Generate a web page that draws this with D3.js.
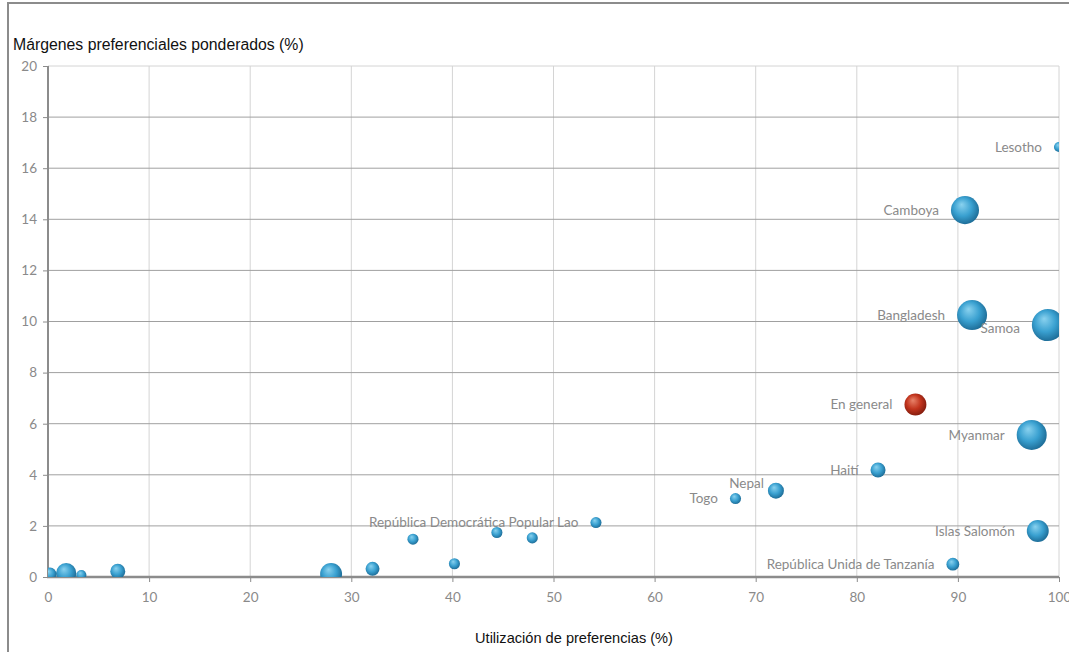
<!DOCTYPE html>
<html><head><meta charset="utf-8">
<script src="https://cdn.jsdelivr.net/npm/d3@7"></script>
<style>body{margin:0;background:#fff}svg{display:block}</style>
</head><body><svg id="c" width="1069" height="652"></svg>
<script>
const labels = ["Lesotho","Camboya","Bangladesh","Samoa","En general","Myanmar","Haití","Nepal","Togo","República Democrática Popular Lao","","","","","","","Islas Salomón","República Unida de Tanzanía","","","",""];
const utilizacion = [100, 90.7, 91.4, 98.9, 85.8, 97.3, 82.1, 72.0, 68.0, 54.2, 47.9, 44.4, 36.1, 40.2, 32.1, 28.0, 97.9, 89.5, 6.9, 0.2, 1.8, 3.3];
const margenes = [16.83, 14.36, 10.25, 9.86, 6.75, 5.56, 4.19, 3.38, 3.07, 2.13, 1.53, 1.74, 1.48, 0.52, 0.32, 0.12, 1.80, 0.50, 0.22, 0.12, 0.15, 0.08];
const tamano = [10, 77, 88, 100, 47, 88, 22, 25, 12, 12, 12, 12, 12, 12, 19, 47, 47, 16, 22, 16, 40, 10];
const general = [false,false,false,false,true,false,false,false,false,false,false,false,false,false,false,false,false,false,false,false,false,false];
const xTicks = [0,10,20,30,40,50,60,70,80,90,100];
const yTicks = [0,2,4,6,8,10,12,14,16,18,20];
const yTitle = "Márgenes preferenciales ponderados (%)";
const xTitle = "Utilización de preferencias (%)";

const svg = d3.select("#c");
const L = 48, R = 1059, T = 66, B = 577;
const x = d3.scaleLinear().domain([0,100]).range([L,R]);
const y = d3.scaleLinear().domain([0,20]).range([B,T]);
const r = d3.scaleSqrt().domain([0,100]).range([0,16]);

const defs = svg.append("defs");
function grad(id, c0, c1, c2){
  const g = defs.append("radialGradient").attr("id",id).attr("cx","45%").attr("cy","45%").attr("r","60%").attr("fx","38%").attr("fy","30%");
  g.append("stop").attr("offset","0%").attr("stop-color",c0);
  g.append("stop").attr("offset","55%").attr("stop-color",c1);
  g.append("stop").attr("offset","100%").attr("stop-color",c2);
}
grad("gb","#8ad2ef","#39a0d0","#1a6690");
grad("gr","#e8836a","#c2341d","#7c1a0c");
defs.append("clipPath").attr("id","clip").append("rect").attr("x",L).attr("y",T).attr("width",R-L).attr("height",B-T);

// outer frame
svg.append("line").attr("x1",8).attr("x2",1069).attr("y1",3).attr("y2",3).attr("stroke","#8c8c8c").attr("stroke-width",2);
svg.append("line").attr("x1",8).attr("x2",8).attr("y1",2).attr("y2",652).attr("stroke","#8c8c8c").attr("stroke-width",2);

// vertical gridlines
svg.append("g").selectAll("line").data(xTicks.filter(d=>d>0)).join("line")
  .attr("x1",d=>x(d)).attr("x2",d=>x(d)).attr("y1",T).attr("y2",B)
  .attr("stroke","#d4d4d4").attr("stroke-width",1);
// horizontal gridlines
svg.append("g").selectAll("line").data(yTicks.filter(d=>d>0 && d<20)).join("line")
  .attr("x1",L).attr("x2",R).attr("y1",d=>y(d)).attr("y2",d=>y(d))
  .attr("stroke","#a0a0a0").attr("stroke-width",1);
svg.append("line").attr("x1",L).attr("x2",R).attr("y1",T).attr("y2",T).attr("stroke","#d4d4d4");

// axes
const yAxis = svg.append("g").attr("transform",`translate(${L},0)`)
  .call(d3.axisLeft(y).tickValues(yTicks).tickSize(5).tickPadding(6).tickFormat(d3.format("d")));
const xAxis = svg.append("g").attr("transform",`translate(0,${B})`)
  .call(d3.axisBottom(x).tickValues(xTicks).tickSize(5).tickPadding(10).tickFormat(d3.format("d")));
[yAxis,xAxis].forEach(a=>{
  a.select(".domain").remove();
  a.selectAll(".tick line").attr("stroke","#8c8c8c");
  a.selectAll("text").attr("fill","#8a8a8a").style("font-family","Lato, 'Open Sans', sans-serif").style("font-size","13.5px");
});
xAxis.selectAll(".tick").filter(d=>d===0).select("line").remove();
svg.append("line").attr("x1",L).attr("x2",L).attr("y1",T).attr("y2",B+1).attr("stroke","#8c8c8c").attr("stroke-width",2);
svg.append("line").attr("x1",L-1).attr("x2",R).attr("y1",B).attr("y2",B).attr("stroke","#8c8c8c").attr("stroke-width",2.5);

// bubbles
const data = labels.map((l,i)=>({l, u:utilizacion[i], m:margenes[i], s:tamano[i], g:general[i]}));
const order = data.slice().sort((a,b)=>b.s-a.s);
svg.append("g").attr("clip-path","url(#clip)").selectAll("circle").data(order).join("circle")
  .attr("cx",d=>x(d.u)).attr("cy",d=>y(d.m)).attr("r",d=>r(d.s))
  .attr("fill",d=>d.g?"url(#gr)":"url(#gb)");

// labels
const special = {"Samoa":[0,3], "Nepal":[8,-7]};
svg.append("g").selectAll("text").data(data.filter(d=>d.l)).join("text")
  .attr("x",d=>x(d.u)-r(d.s)-12+(special[d.l]?special[d.l][0]:0))
  .attr("y",d=>y(d.m)+(special[d.l]?special[d.l][1]:0))
  .attr("dy","0.35em").attr("text-anchor","end")
  .attr("fill","#8a8a8a").style("font-family","Lato, 'Open Sans', sans-serif").style("font-size","13.5px")
  .text(d=>d.l);

// titles
svg.append("text").attr("x",13).attr("y",50).text(yTitle)
  .style("font-family","'Liberation Sans', Arial, sans-serif").style("font-size","15.8px").attr("fill","#111");
svg.append("text").attr("x",574).attr("y",643).attr("text-anchor","middle").text(xTitle)
  .style("font-family","'Liberation Sans', Arial, sans-serif").style("font-size","14.6px").attr("fill","#111");
</script></body></html>
